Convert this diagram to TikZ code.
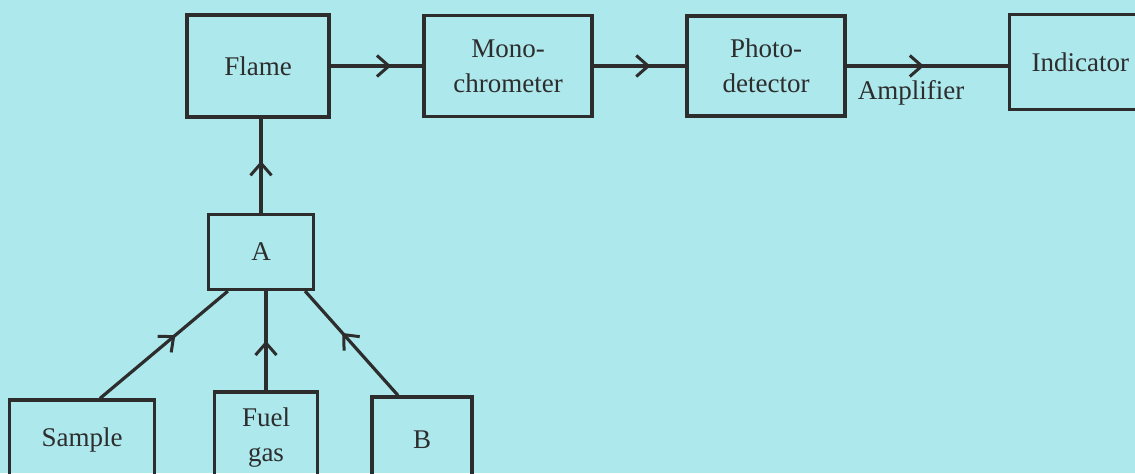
\documentclass[tikz,border=0pt]{standalone}
\usepackage{fontspec}
\setmainfont{Liberation Serif}
\usetikzlibrary{arrows.meta,decorations.markings}
\definecolor{paper}{RGB}{172,232,236}
\definecolor{ink}{RGB}{45,45,45}
\begin{document}
\begin{tikzpicture}[x=0.5pt, y=-0.5pt,
  box/.style={draw=ink, line width=1.6pt, align=center, inner sep=2pt, text=ink, font=\fontsize{13.5}{17.5}\selectfont},
  lbl/.style={text=ink, font=\fontsize{13.5}{17.5}\selectfont},
  flow/.style={draw=ink, line width=1.6pt, postaction={decorate},
    decoration={markings, mark=at position #1 with {\arrow{Straight Barb[length=6pt,width=10.5pt,line width=1.5pt]}}}},
  flow/.default=0.5
]
\useasboundingbox (0,0) rectangle (1135,473);
\clip (0,0) rectangle (1135,473);
\fill[paper] (0,0) rectangle (1135,473);
\node[box, minimum width=71pt, minimum height=51pt] (flame) at (258,66) {Flame};
\node[box, minimum width=84pt, minimum height=50.5pt] (mono) at (508,66) {Mono-\\chrometer};
\node[box, minimum width=79pt, minimum height=50pt] (photo) at (766,66) {Photo-\\detector};
\node[box, anchor=west, minimum height=47.5pt, inner xsep=11pt, text width=80pt, align=left] (ind) at (1008,62) {Indicator};
\node[box, minimum width=52.5pt, minimum height=37.5pt] (A) at (261,252) {A};
\node[box, minimum width=72.5pt, minimum height=40pt] (sample) at (82,440) {Sample};
\node[box, minimum width=51.5pt, minimum height=46pt] (fuel) at (266,438) {Fuel\\gas};
\node[box, minimum width=50pt, minimum height=43pt] (B) at (422,440) {B};
\draw[flow=0.66] (flame) -- (mono);
\draw[flow=0.62] (mono) -- (photo);
\draw[flow=0.48] (photo.east) -- (photo.east -| ind.west) node[lbl, pos=0.4, below=3pt] (amp) {Amplifier};
\draw[flow=0.55] (A.north) -- (A.north |- flame.south);
\draw[flow=0.59] ([xshift=9pt]sample.north) -- ([xshift=10.5pt]A.south west);
\draw[flow=0.5] (fuel.north) -- (fuel.north |- A.south);
\draw[flow=0.6] ([xshift=-12pt]B.north) -- ([xshift=-5pt]A.south east);
\end{tikzpicture}
\end{document}
